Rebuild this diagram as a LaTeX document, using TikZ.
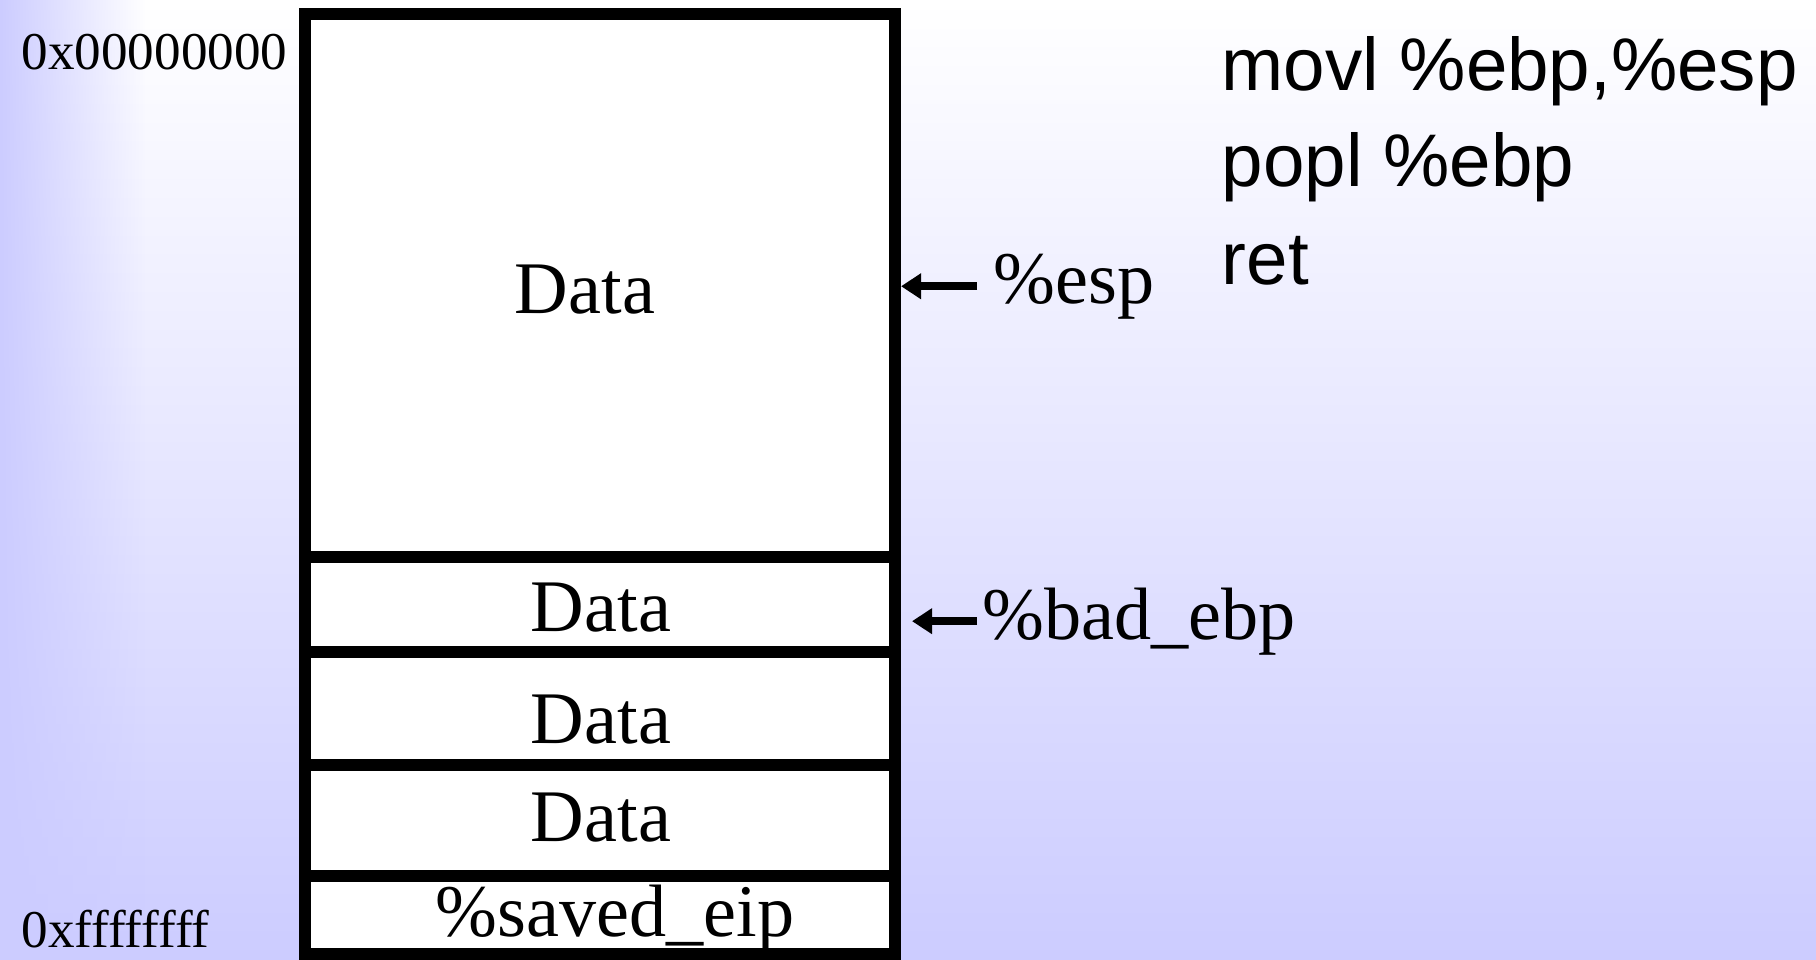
\documentclass[tikz,border=0pt]{standalone}
\usepackage{fontspec}
\setmainfont{Liberation Serif}
\setsansfont{Liberation Sans}
\usetikzlibrary{arrows.meta,fadings}

\definecolor{slidebg}{RGB}{204,204,255}
\tikzfading[name=fadeleft, left color=transparent!0, right color=transparent!100]

\tikzset{
  stackcell/.style={draw, fill=white, line width=3.3pt},
  celltext/.style={font=\fontsize{21.1}{24}\selectfont, anchor=base, inner sep=0pt},
  addr/.style={font=\fontsize{15.1}{18}\selectfont, anchor=base west, inner sep=0pt},
  reglabel/.style={font=\fontsize{21.1}{24}\selectfont, anchor=base west, inner ysep=0pt},
  code/.style={font=\sffamily\fontsize{21.2}{24}\selectfont, anchor=base west, inner sep=0pt},
  ptr/.style={-{Triangle[length=5.7pt,width=7pt]}, line width=2.3pt}
}

\begin{document}
\begin{tikzpicture}[x=0.01cm, y=-0.01cm]
    % Background
    \useasboundingbox (0,0) rectangle (1816,959);
    \shade[top color=white, bottom color=slidebg] (0,0) rectangle (1816,959);
    \fill[slidebg, path fading=fadeleft] (0,0) rectangle (145,959);

    % Stack
    \draw[stackcell] (305,14) rectangle (895,557);
    \draw[stackcell] (305,557) rectangle (895,652);
    \draw[stackcell] (305,652) rectangle (895,765);
    \draw[stackcell] (305,765) rectangle (895,876);
    \draw[stackcell] (305,876) rectangle (895,954);
    \coordinate (stackedge) at (901,285);
    \coordinate (badtip) at (912,620);

    % Cell contents
    \node[celltext] (data1) at (585,313) {Data};
    \node[celltext] (data2) at (601,631) {Data};
    \node[celltext] (data3) at (601,743) {Data};
    \node[celltext] (data4) at (601,841) {Data};
    \node[celltext] (eip) at (615,936) {\%saved\_eip};

    % Addresses
    \node[addr] (low) at (21,69) {0x00000000};
    \node[addr] (high) at (21,947) {0xffffffff};

    % Registers
    \node[reglabel, inner xsep=0.16cm] (esp) at (977,303) {\%esp};
    \node[reglabel, inner xsep=0.05cm] (bad) at (977,639) {\%bad\_ebp};
    \draw[ptr] (esp.west) -- (esp.west -| stackedge);
    \draw[ptr] (bad.west) -- (bad.west -| badtip);

    % Code
    \node[code] (code1) at (1221,90) {movl \%ebp,\%esp};
    \node[code] (code2) at (1221,186) {popl \%ebp};
    \node[code] (code3) at (1221,284) {ret};
\end{tikzpicture}
\end{document}
